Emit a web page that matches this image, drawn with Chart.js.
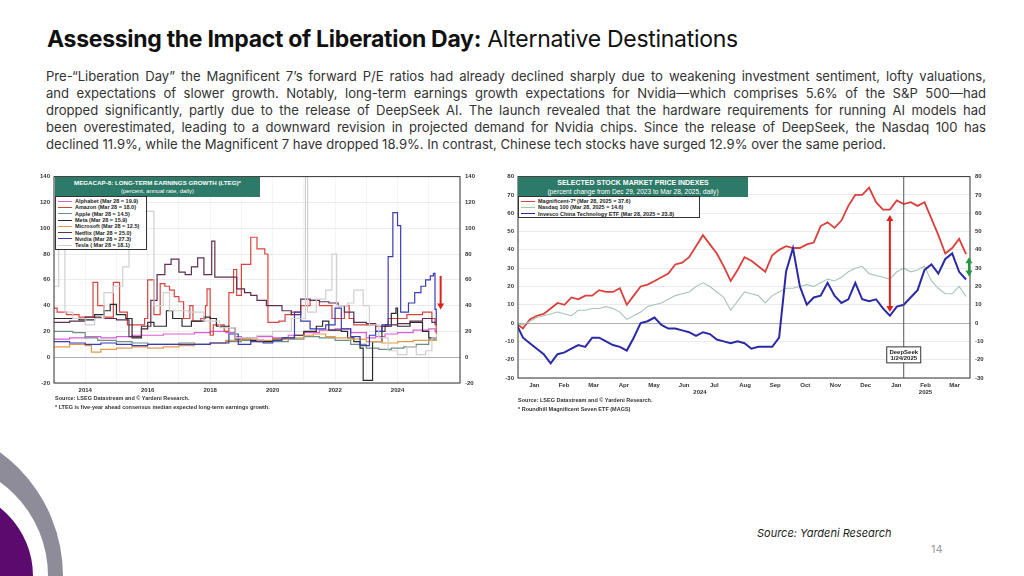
<!DOCTYPE html>
<html lang="en">
<head>
  <meta charset="UTF-8" />
  <title>Assessing the Impact of Liberation Day: Alternative Destinations</title>
  <script src="https://cdn.jsdelivr.net/npm/chart.js"></script>
  <style>
    body {
      margin: 0;
      width: 1024px;
      height: 576px;
      overflow: hidden;
      position: relative;
      background: #fff;
      font-family: Inter, "Noto Sans", sans-serif;
      color: #222;
    }
    .title {
      position: absolute;
      left: 47px;
      top: 25px;
      margin: 0;
      font-size: 23px;
      font-weight: 400;
      letter-spacing: -0.3px;
      color: #111;
      white-space: nowrap;
    }
    .title b { font-weight: 700; }
    .para {
      position: absolute;
      left: 46px;
      top: 68px;
      width: 940px;
      font-size: 13.1px;
      line-height: 17px;
      color: #333;
    }
    .para div { text-align: justify; text-align-last: justify; white-space: nowrap; }
    .para div.last { text-align-last: left; }
    .chartbox { position: absolute; }
    .tbox {
      position: absolute;
      background: #2c7a67;
      color: #fff;
      font-family: "Liberation Sans", Arial, sans-serif;
      text-align: center;
      line-height: 9px;
      padding-top: 1px;
    }
    .tbox .l1 { font-weight: 700; }
    .legend {
      position: absolute;
      background: #fff;
      border: 1px solid #333;
      font-family: "Liberation Sans", Arial, sans-serif;
      font-size: 5.5px;
      font-weight: 700;
      color: #222;
      padding: 1px 2px;
      box-sizing: border-box;
    }
    .legend .row { display: flex; align-items: center; height: 6.3px; white-space: nowrap; }
    .legend .sw { display: inline-block; width: 14px; height: 0; margin-right: 3px; border-top: 1.5px solid; }
    .foot {
      position: absolute;
      font-family: "Liberation Sans", Arial, sans-serif;
      font-size: 5.5px;
      font-weight: 700;
      color: #333;
      line-height: 9px;
      white-space: nowrap;
    }
    .ring {
      position: absolute;
      border-radius: 50%;
    }
    .src {
      position: absolute;
      left: 757px;
      top: 526px;
      font-size: 11px;
      font-style: italic;
      color: #222;
    }
    .pg {
      position: absolute;
      left: 931px;
      top: 542px;
      font-size: 11px;
      color: #999;
    }
  </style>
</head>
<body>
  <h1 class="title"><b>Assessing the Impact of Liberation Day:</b> Alternative Destinations</h1>
  <div class="para">
    <div>Pre-“Liberation Day” the Magnificent 7’s forward P/E ratios had already declined sharply due to weakening investment sentiment, lofty valuations,</div>
    <div>and expectations of slower growth. Notably, long-term earnings growth expectations for Nvidia—which comprises 5.6% of the S&amp;P 500—had</div>
    <div>dropped significantly, partly due to the release of DeepSeek AI. The launch revealed that the hardware requirements for running AI models had</div>
    <div>been overestimated, leading to a downward revision in projected demand for Nvidia chips. Since the release of DeepSeek, the Nasdaq 100 has</div>
    <div class="last">declined 11.9%, while the Magnificent 7 have dropped 18.9%. In contrast, Chinese tech stocks have surged 12.9% over the same period.</div>
  </div>

  <!-- left chart -->
  <div class="chartbox" style="left:33px; top:168px; width:457px; height:227px;">
    <canvas id="ltegChart"></canvas>
  </div>
  <div class="tbox" style="left:55px; top:177px; width:205px; height:19px;">
    <div class="l1" style="font-size:6.2px;">MEGACAP-8: LONG-TERM EARNINGS GROWTH (LTEG)*</div>
    <div style="font-size:6px;">(percent, annual rate, daily)</div>
  </div>
  <div class="legend" id="ltegLegend" style="left:55px; top:196px; width:92px; height:54px;"></div>
  <div class="foot" style="left:55px; top:394px;">
    <div>Source: LSEG Datastream and © Yardeni Research.</div>
    <div>* LTEG is five-year ahead consensus median expected long-term earnings growth.</div>
  </div>

  <!-- right chart -->
  <div class="chartbox" style="left:497px; top:168px; width:498px; height:230px;">
    <canvas id="priceChart"></canvas>
  </div>
  <div class="tbox" style="left:518px; top:177px; width:230px; height:19px;">
    <div class="l1" style="font-size:7px;">SELECTED STOCK MARKET PRICE INDEXES</div>
    <div style="font-size:6.6px;">(percent change from Dec 29, 2023 to Mar 28, 2025, daily)</div>
  </div>
  <div class="legend" id="priceLegend" style="left:518px; top:196px; width:182px; height:22px;"></div>
  <div class="foot" style="left:518px; top:396px;">
    <div>Source: LSEG Datastream and © Yardeni Research.</div>
    <div>* Roundhill Magnificent Seven ETF (MAGS)</div>
  </div>

  <!-- decoration -->
  <div class="ring" style="left:-243px; top:423px; width:306px; height:306px; background:#8e8c98;"></div>
  <div class="ring" style="left:-184px; top:460px; width:232px; height:232px; background:#fff;"></div>
  <div class="ring" style="left:-141px; top:489px; width:174px; height:174px; background:#5c0a6e;"></div>

  <div class="src">Source: Yardeni Research</div>
  <div class="pg">14</div>

  <script>
    // ---------- Left chart: MegaCap-8 LTEG (step data, [year, value]) ----------
    const LTEG_YEAR_LABELS = [2014, 2016, 2018, 2020, 2022, 2024];
    const LTEG_Y_TICKS = [-20, 0, 20, 40, 60, 80, 100, 120, 140];

    const ALPHABET = [[2013.0,14],[2013.5,15],[2014.0,16],[2014.5,15],[2015.0,16],[2015.5,17],[2016.0,17],[2016.5,18],
      [2017.0,18],[2017.5,19],[2018.0,20],[2018.5,19],[2018.8,16],[2019.0,15],[2019.5,16],[2020.0,15],[2020.5,17],
      [2021.0,19],[2021.5,21],[2022.0,22],[2022.5,19],[2023.0,15],[2023.3,16],[2023.6,18],[2024.0,19],[2024.5,21],
      [2025.0,22],[2025.2,20],[2025.24,19.9]];
    const AMAZON = [[2013.0,38],[2013.1,35],[2013.4,33],[2013.8,31],[2014.25,58],[2014.4,40],[2014.6,31],[2014.9,58],
      [2015.1,35],[2015.35,25],[2015.9,30],[2016.0,60],[2016.2,33],[2016.4,57],[2016.55,55],[2016.7,52],[2016.85,47],
      [2017.0,43],[2017.15,30],[2017.35,40],[2017.45,28],[2017.7,30],[2017.85,40],[2017.9,53],[2018.0,17],[2018.1,25],
      [2018.45,20],[2018.6,50],[2018.75,68],[2018.85,48],[2019.0,72],[2019.3,93],[2019.5,84],[2019.75,80],[2019.85,27],
      [2020.2,28],[2020.4,33],[2020.6,35],[2020.9,40],[2021.2,44],[2021.5,40],[2021.9,30],[2022.3,40],[2022.45,30],
      [2022.6,25],[2023.0,25],[2023.3,24],[2023.7,30],[2024.3,33],[2024.8,35],[2025.1,30],[2025.2,25],[2025.24,18]];
    const APPLE = [[2013.0,20],[2013.6,19],[2014.0,15],[2014.4,13],[2015.0,12],[2015.5,11],[2016.0,10],[2016.5,10],
      [2017.0,11],[2017.5,10],[2018.0,11],[2018.5,12],[2019.0,13],[2019.5,12],[2020.0,12],[2020.5,14],[2021.0,16],
      [2021.5,15],[2022.0,13],[2022.5,10],[2023.0,7],[2023.4,6],[2023.8,7],[2024.2,8],[2024.6,10],[2025.0,14],[2025.24,14.5]];
    const META = [[2013.0,30],[2013.8,29],[2014.3,33],[2014.6,36],[2014.8,41],[2015.0,33],[2015.3,30],[2015.5,15],
      [2015.8,22],[2016.0,27],[2016.2,24],[2016.6,36],[2016.8,30],[2017.1,24],[2017.4,28],[2017.8,31],[2018.0,30],
      [2018.2,24],[2018.6,23],[2018.8,14],[2019.3,13],[2019.7,12],[2020.0,14],[2020.4,15],[2020.7,17],[2021.0,20],
      [2021.4,24],[2021.6,28],[2021.8,21],[2022.2,20],[2022.4,15],[2022.6,12],[2022.8,7],[2022.9,-18],[2023.2,12],
      [2023.5,24],[2023.8,34],[2023.95,38],[2024.0,24],[2024.4,27],[2024.8,20],[2025.0,15],[2025.24,15.9]];
    const MICROSOFT = [[2013.0,8],[2013.5,10],[2014.0,9],[2014.2,4],[2014.5,6],[2015.0,7],[2015.5,8],[2016.0,7],
      [2016.5,8],[2017.0,9],[2017.5,10],[2018.0,11],[2018.5,13],[2019.0,14],[2019.5,13],[2020.0,14],[2020.5,15],
      [2021.0,17],[2021.3,18],[2021.7,16],[2022.0,15],[2022.5,14],[2023.0,12],[2023.5,11],[2024.0,12],[2024.5,13],
      [2025.0,13],[2025.24,12.5]];
    const NETFLIX = [[2013.0,27],[2013.5,28],[2014.0,31],[2014.5,30],[2015.0,29],[2015.4,16],[2015.8,24],[2016.1,44],
      [2016.3,64],[2016.55,72],[2016.75,76],[2017.0,66],[2017.2,64],[2017.4,70],[2017.6,77],[2017.8,64],[2018.05,90],
      [2018.15,62],[2018.5,62],[2018.85,53],[2019.1,50],[2019.3,48],[2019.5,44],[2019.8,40],[2020.1,40],[2020.3,36],
      [2020.6,33],[2020.9,45],[2021.2,44],[2021.5,43],[2021.8,42],[2022.1,40],[2022.3,35],[2022.6,27],[2023.0,26],
      [2023.3,20],[2023.6,25],[2024.0,26],[2024.4,28],[2024.8,30],[2025.1,27],[2025.24,25]];
    const NVIDIA = [[2013.0,12],[2013.5,11],[2014.0,10],[2014.5,11],[2015.0,10],[2015.5,9],[2016.0,10],[2016.5,10],
      [2017.0,10],[2017.5,10],[2018.0,11],[2018.6,18],[2018.9,10],[2019.3,12],[2019.7,11],[2020.0,13],[2020.3,15],
      [2020.7,35],[2020.9,28],[2021.2,22],[2021.7,25],[2022.0,38],[2022.2,22],[2022.5,16],[2022.8,9],[2023.1,17],
      [2023.3,20],[2023.5,25],[2023.7,78],[2023.85,112],[2024.0,102],[2024.1,35],[2024.35,42],[2024.55,50],
      [2024.75,55],[2024.9,60],[2025.05,63],[2025.15,65],[2025.2,37],[2025.24,27.3]];
    const TESLA = [[2013.0,55],[2013.15,90],[2013.35,35],[2013.6,30],[2014.0,25],[2014.3,30],[2014.6,50],[2014.9,55],
      [2015.2,70],[2015.4,113],[2016.2,40],[2016.5,50],[2016.7,36],[2017.3,35],[2017.8,28],[2018.3,23],[2018.8,15],
      [2019.5,17],[2020.0,20],[2020.6,30],[2021.05,200],[2021.12,35],[2021.4,45],[2021.7,52],[2021.9,80],[2022.05,40],
      [2022.4,42],[2022.6,52],[2022.9,40],[2023.1,25],[2023.4,15],[2023.7,5],[2024.0,2],[2024.3,8],[2024.6,2],
      [2024.9,5],[2025.1,15],[2025.24,18.1]];

    const LTEG_SERIES = [
      { label: 'Alphabet (Mar 28 = 19.9)',  data: ALPHABET,  color: '#d95fd6' },
      { label: 'Amazon (Mar 28 = 18.0)',    data: AMAZON,    color: '#d9443f' },
      { label: 'Apple (Mar 28 = 14.5)',     data: APPLE,     color: '#6f8f86' },
      { label: 'Meta (Mar 28 = 15.9)',      data: META,      color: '#2a2a2a' },
      { label: 'Microsoft (Mar 28 = 12.5)', data: MICROSOFT, color: '#e49a45' },
      { label: 'Netflix (Mar 28 = 25.0)',   data: NETFLIX,   color: '#5e2f4f' },
      { label: 'Nvidia (Mar 28 = 27.3)',    data: NVIDIA,    color: '#3b3bb5' },
      { label: 'Tesla ( Mar 28 = 18.1)',    data: TESLA,     color: '#cfcfcf' }
    ];
    // red arrow on Nvidia drop
    const LTEG_ARROW = { x: 2025.38, from: 63, to: 37 };

    // ---------- Right chart: price indexes (weekly, Fridays) ----------
    const DATES = ['2023-12-29',
      '2024-01-05','2024-01-12','2024-01-19','2024-01-26','2024-02-02','2024-02-09','2024-02-16','2024-02-23',
      '2024-03-01','2024-03-08','2024-03-15','2024-03-22','2024-03-29','2024-04-05','2024-04-12','2024-04-19',
      '2024-04-26','2024-05-03','2024-05-10','2024-05-17','2024-05-24','2024-05-31','2024-06-07','2024-06-14',
      '2024-06-21','2024-06-28','2024-07-05','2024-07-12','2024-07-19','2024-07-26','2024-08-02','2024-08-09',
      '2024-08-16','2024-08-23','2024-08-30','2024-09-06','2024-09-13','2024-09-20','2024-09-27','2024-10-04',
      '2024-10-11','2024-10-18','2024-10-25','2024-11-01','2024-11-08','2024-11-15','2024-11-22','2024-11-29',
      '2024-12-06','2024-12-13','2024-12-20','2024-12-27','2025-01-03','2025-01-10','2025-01-17','2025-01-24',
      '2025-01-31','2025-02-07','2025-02-14','2025-02-21','2025-02-28','2025-03-07','2025-03-14','2025-03-21',
      '2025-03-28'];
    const MAG7 = [0,-3,2,4,5,8,11,10,14,13,15,15,18,17,17,19,10,15,20,21,23,25,27,32,33,36,42,48,43,38,31,23,29,36,
      34,31,28,37,40,42,41,41,43,44,53,55,52,56,64,70,70,74,66,62,62,67,65,66,64,66,57,48,38,41,46,37.6];
    const NDX = [0,-1,1,3,4,5,6,5,4,7,7,8,8,9,8,6,2,4,6,9,10,11,13,15,16,17,20,22,20,17,14,7,12,17,16,15,11,15,17,19,
      19,20,21,20,22,24,23,25,28,30,31,27,26,25,24,28,30,28,29,31,23,19,16,16,20,14.6];
    const CHINA = [0,-8,-11,-14,-17,-22,-17,-16,-14,-12,-13,-8,-8,-10,-12,-13,-15,-8,0,1,3,-1,-3,-3,-4,-5,-7,-5,-6,
      -9,-10,-11,-10,-11,-14,-13,-13,-13,-8,28,41,20,10,14,15,22,15,11,13,22,13,12,13,8,4,9,10,14,18,29,32,27,35,38,
      28,23.8];

    const MONTH_STARTS = ['2024-01-01','2024-02-01','2024-03-01','2024-04-01','2024-05-01','2024-06-01','2024-07-01',
      '2024-08-01','2024-09-01','2024-10-01','2024-11-01','2024-12-01','2025-01-01','2025-02-01','2025-03-01','2025-04-01'];
    const MONTH_LABELS = ['Jan','Feb','Mar','Apr','May','Jun','Jul','Aug','Sep','Oct','Nov','Dec','Jan','Feb','Mar'];
    const YEAR_LABELS = [{ label: '2024', from: '2024-01-01', to: '2025-01-01' },
                         { label: '2025', from: '2025-01-01', to: '2025-04-01' }];
    const PRICE_Y_TICKS = [-30, -20, -10, 0, 10, 20, 30, 40, 50, 60, 70, 80];

    const PRICE_SERIES = [
      { label: 'Magnificent-7* (Mar 28, 2025 = 37.6)', data: MAG7, color: '#dc3f3b', width: 1.8 },
      { label: 'Nasdaq 100 (Mar 28, 2025 = 14.6)', data: NDX, color: '#a6c4b8', width: 1.1 },
      { label: 'Invesco China Technology ETF (Mar 28, 2025 = 23.8)', data: CHINA, color: '#2a2aa6', width: 2 }
    ];
    const DEEPSEEK_DATE = '2025-01-24';
    const PRICE_ARROWS = [
      { date: '2025-01-10', from: 59, to: 6, color: '#e0221d' },
      { date: '2025-03-31', from: 36, to: 25.5, color: '#1f9a3c' }
    ];

    // ---------- helpers ----------
    const DAY0 = Date.UTC(2024, 0, 1);
    function dayOf(s) {
      const p = s.split('-').map(Number);
      return (Date.UTC(p[0], p[1] - 1, p[2]) - DAY0) / 86400000;
    }

    const TICK_FONT = { family: '"Liberation Sans", Arial, sans-serif', size: 6, weight: 'bold' };

    function arrowHead(ctx, x, y, dir, color) {
      ctx.beginPath();
      ctx.moveTo(x, y);
      ctx.lineTo(x - 3.5, y - dir * 6);
      ctx.lineTo(x + 3.5, y - dir * 6);
      ctx.closePath();
      ctx.fillStyle = color;
      ctx.fill();
    }
    function drawArrow(ctx, x, yFrom, yTo, color, both) {
      ctx.save();
      ctx.strokeStyle = color;
      ctx.lineWidth = 2;
      ctx.beginPath();
      ctx.moveTo(x, yFrom + (both ? 4 : 0));
      ctx.lineTo(x, yTo - 4);
      ctx.stroke();
      arrowHead(ctx, x, yTo, 1, color);
      if (both) arrowHead(ctx, x, yFrom, -1, color);
      ctx.restore();
    }

    const framePlugin = {
      id: 'frame',
      afterDatasetsDraw(chart) {
        const a = chart.chartArea, ctx = chart.ctx;
        ctx.save();
        ctx.strokeStyle = '#333';
        ctx.lineWidth = 1;
        ctx.strokeRect(a.left, a.top, a.right - a.left, a.bottom - a.top);
        ctx.restore();
      }
    };

    function buildLegend(id, series) {
      const box = document.getElementById(id);
      series.forEach(s => {
        const row = document.createElement('div');
        row.className = 'row';
        row.innerHTML = '<span class="sw" style="border-color:' + s.color + '"></span>' + s.label;
        box.appendChild(row);
      });
    }
    buildLegend('ltegLegend', LTEG_SERIES);
    buildLegend('priceLegend', PRICE_SERIES);

    // ---------- left chart ----------
    new Chart(document.getElementById('ltegChart'), {
      type: 'line',
      data: {
        datasets: LTEG_SERIES.slice().reverse().map(s => ({
          label: s.label,
          data: s.data.map(p => ({ x: p[0], y: p[1] })),
          borderColor: s.color,
          borderWidth: 1.2,
          pointRadius: 0,
          stepped: true,
          fill: false
        }))
      },
      options: {
        responsive: true,
        maintainAspectRatio: false,
        animation: false,
        layout: { padding: { top: 8, right: 0, left: 0, bottom: 0 } },
        plugins: { legend: { display: false }, tooltip: { enabled: false } },
        scales: {
          x: {
            type: 'linear', min: 2013, max: 2026,
            ticks: { stepSize: 1, font: TICK_FONT, color: '#333', maxRotation: 0, autoSkip: false, padding: 4,
              callback: v => LTEG_YEAR_LABELS.includes(v) ? String(v) : '' },
            grid: { color: '#ececec', lineWidth: 0.6, drawTicks: false },
            border: { display: false },
            afterFit: s => { s.height = 12; }
          },
          y: {
            min: -20, max: 140,
            afterBuildTicks: s => { s.ticks = LTEG_Y_TICKS.map(v => ({ value: v })); },
            ticks: { font: TICK_FONT, color: '#333', padding: 4 },
            grid: { color: c => c.tick.value === 0 ? '#9a9a9a' : '#e6e6e6', lineWidth: 0.8, drawTicks: false },
            border: { display: false },
            afterFit: s => { s.width = 21; }
          },
          y2: {
            position: 'right', min: -20, max: 140,
            afterBuildTicks: s => { s.ticks = LTEG_Y_TICKS.map(v => ({ value: v })); },
            ticks: { font: TICK_FONT, color: '#333', padding: 5 },
            grid: { display: false, drawTicks: false },
            border: { display: false },
            afterFit: s => { s.width = 30; }
          }
        }
      },
      plugins: [framePlugin, {
        id: 'ltegArrow',
        afterDatasetsDraw(chart) {
          const xs = chart.scales.x, ys = chart.scales.y;
          drawArrow(chart.ctx, xs.getPixelForValue(LTEG_ARROW.x), ys.getPixelForValue(LTEG_ARROW.from),
            ys.getPixelForValue(LTEG_ARROW.to), '#e0221d', false);
        }
      }]
    });

    // ---------- right chart ----------
    const monthDays = MONTH_STARTS.map(dayOf);
    const monthMids = MONTH_LABELS.map((m, i) => (monthDays[i] + monthDays[i + 1]) / 2);
    const yearMids = YEAR_LABELS.map(y => (dayOf(y.from) + dayOf(y.to)) / 2);
    const xMin = dayOf(DATES[0]) + 2, xMax = monthDays[monthDays.length - 1];

    new Chart(document.getElementById('priceChart'), {
      type: 'line',
      data: {
        datasets: PRICE_SERIES.slice().reverse().map(s => ({
          label: s.label,
          data: s.data.map((v, i) => ({ x: dayOf(DATES[i]), y: v })),
          borderColor: s.color,
          borderWidth: s.width,
          pointRadius: 0,
          tension: 0,
          fill: false
        }))
      },
      options: {
        responsive: true,
        maintainAspectRatio: false,
        animation: false,
        layout: { padding: { top: 7, right: 0, left: 0, bottom: 0 } },
        plugins: { legend: { display: false }, tooltip: { enabled: false } },
        scales: {
          x: {
            type: 'linear', position: 'bottom', min: xMin, max: xMax,
            afterBuildTicks: s => { s.ticks = monthMids.map(v => ({ value: v })); },
            ticks: { font: TICK_FONT, color: '#333', maxRotation: 0, minRotation: 0, autoSkip: false, padding: 4,
              callback: function (v, i) { return MONTH_LABELS[i] || ''; } },
            grid: { display: false, drawTicks: false },
            border: { display: false },
            afterFit: s => { s.height = 20; }
          },
          y: {
            min: -30, max: 80,
            afterBuildTicks: s => { s.ticks = PRICE_Y_TICKS.map(v => ({ value: v })); },
            ticks: { font: TICK_FONT, color: '#333', padding: 4 },
            grid: { color: c => c.tick.value === 0 ? '#9a9a9a' : '#e6e6e6', lineWidth: 0.8, drawTicks: false },
            border: { display: false },
            afterFit: s => { s.width = 21; }
          },
          y2: {
            position: 'right', min: -30, max: 80,
            afterBuildTicks: s => { s.ticks = PRICE_Y_TICKS.map(v => ({ value: v })); },
            ticks: { font: TICK_FONT, color: '#333', padding: 5 },
            grid: { display: false, drawTicks: false },
            border: { display: false },
            afterFit: s => { s.width = 25; }
          }
        }
      },
      plugins: [framePlugin, {
        id: 'priceNotes',
        afterDatasetsDraw(chart) {
          const ctx = chart.ctx, xs = chart.scales.x, ys = chart.scales.y, a = chart.chartArea;
          // DeepSeek release line and label
          const dx = xs.getPixelForValue(dayOf(DEEPSEEK_DATE));
          ctx.save();
          ctx.strokeStyle = '#555';
          ctx.lineWidth = 1;
          ctx.beginPath();
          ctx.moveTo(dx, a.top);
          ctx.lineTo(dx, a.bottom);
          ctx.stroke();
          const bw = 34, bh = 16, by = ys.getPixelForValue(-13);
          ctx.fillStyle = '#fff';
          ctx.fillRect(dx - bw / 2, by, bw, bh);
          ctx.strokeStyle = '#333';
          ctx.strokeRect(dx - bw / 2, by, bw, bh);
          ctx.fillStyle = '#222';
          ctx.font = 'bold 6px "Liberation Sans", Arial, sans-serif';
          ctx.textAlign = 'center';
          ctx.textBaseline = 'middle';
          ctx.fillText('DeepSeek', dx, by + 5);
          ctx.fillText('1/24/2025', dx, by + 11.5);
          ctx.restore();
          PRICE_ARROWS.forEach(r => {
            drawArrow(ctx, xs.getPixelForValue(dayOf(r.date)), ys.getPixelForValue(r.from),
              ys.getPixelForValue(r.to), r.color, true);
          });
        },
        afterDraw(chart) {
          // year labels under the month axis, centred on each year's span
          const ctx = chart.ctx, xs = chart.scales.x;
          ctx.save();
          ctx.fillStyle = '#333';
          ctx.font = 'bold 6px "Liberation Sans", Arial, sans-serif';
          ctx.textAlign = 'center';
          ctx.textBaseline = 'top';
          YEAR_LABELS.forEach((y, i) => ctx.fillText(y.label, xs.getPixelForValue(yearMids[i]), xs.top + 11));
          ctx.restore();
        }
      }]
    });
  </script>
</body>
</html>
